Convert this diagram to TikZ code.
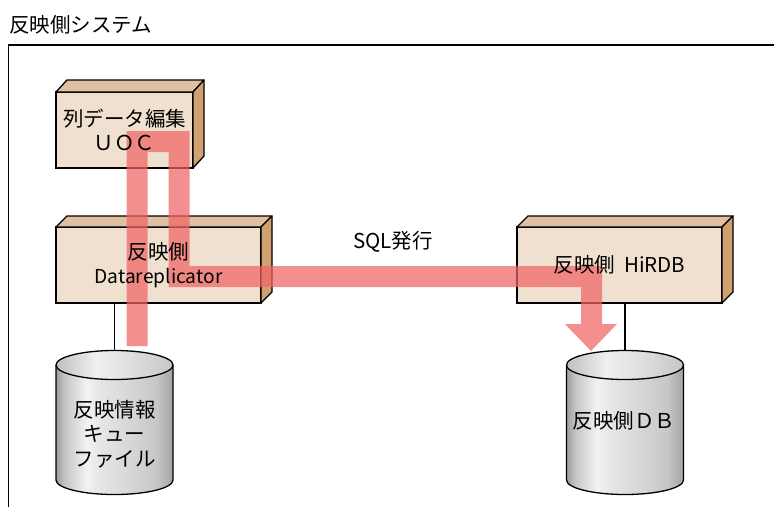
\documentclass[tikz,border=0pt]{standalone}
\usepackage{fontspec}
\setmainfont{Noto Sans CJK JP}
\definecolor{boxfront}{RGB}{240,224,208}
\definecolor{boxtop}{RGB}{224,192,160}
\definecolor{boxside}{RGB}{208,160,112}
\definecolor{flowc}{RGB}{240,100,100}
\pgfdeclarehorizontalshading{cylbody}{100bp}{color(0bp)=(black!38); color(25bp)=(black!38); color(29bp)=(black!22); color(38bp)=(black!5); color(44bp)=(black!10); color(55bp)=(black!15); color(68bp)=(black!22); color(75bp)=(black!36); color(100bp)=(black!36)}
\pgfdeclarehorizontalshading{cyltop}{100bp}{color(0bp)=(black!25); color(25bp)=(black!25); color(42bp)=(black!6); color(55bp)=(black!12); color(75bp)=(black!22); color(100bp)=(black!22)}
\tikzset{
  boxface/.style={draw, line width=1.3pt, fill=boxfront, inner sep=0pt, outer sep=0pt, minimum height=76pt},
  topface/.style={draw, line width=1.3pt, fill=boxtop, line join=round},
  sideface/.style={draw, line width=1.3pt, fill=boxside, line join=round},
  conn/.style={draw, line width=1.1pt},
  frameline/.style={draw, line width=1.6pt},
  lbl/.style={font=\fontsize{20.5}{24.5}\selectfont, align=center, inner sep=0pt},
  cylline/.style={draw, line width=1.3pt},
}
\begin{document}
\begin{tikzpicture}[x=1pt,y=-1pt]
\useasboundingbox (0,0) rectangle (774,507);
% frame
\node[lbl, anchor=west] (title) at (9,25) {反映側システム};
\coordinate (fbl) at (8.5,507);
\coordinate (ftl) at (8.5,45);
\coordinate (ftr) at (774,45);
\draw[frameline] (fbl) -- (ftl) -- (ftr);
% boxes
\node[boxface, minimum width=137pt] (uoc) at (124.5,130) {};
\node[boxface, minimum width=205pt] (repl) at (158.5,265) {};
\node[boxface, minimum width=205pt] (hirdb) at (619.5,265) {};
\foreach \b/\d in {uoc/12, repl/11, hirdb/11}{
  \draw[topface] (\b.north west) -- ++(11,-\d) -- ([shift={(11,-\d)}]\b.north east) -- (\b.north east) -- cycle;
  \draw[sideface] (\b.north east) -- ++(11,-\d) -- ([shift={(11,-\d)}]\b.south east) -- (\b.south east) -- cycle;
}
% cylinders
\coordinate (qtop) at (114.5,351);
\coordinate (dtop) at (625,351);
\foreach \c/\cx in {q/114.5, d/625}{
  \shade[shading=cylbody] (\cx-58.5,365) -- (\cx-58.5,480) arc[start angle=180, end angle=0, x radius=58.5, y radius=14.5] -- (\cx+58.5,365) arc[start angle=0, end angle=-180, x radius=58.5, y radius=14.5] -- cycle;
  \draw[cylline] (\cx-58.5,365) -- (\cx-58.5,480) arc[start angle=180, end angle=0, x radius=58.5, y radius=14.5] -- (\cx+58.5,365);
  \shade[shading=cyltop] (\cx,365) ellipse[x radius=58.5, y radius=14.5];
  \draw[cylline] (\cx,365) ellipse[x radius=58.5, y radius=14.5];
}
% connectors
\draw[conn] (qtop |- repl.south) -- (qtop);
\draw[conn] (dtop |- hirdb.south) -- (dtop);
% flow
\coordinate (p1) at (137,346);
\coordinate (p2) at (137,141.5);
\coordinate (p3) at (179,141.5);
\coordinate (p4) at (179,276.5);
\coordinate (p5) at (591.5,276.5);
\coordinate (p6) at (591.5,324);
\coordinate (ah1) at (565,324);
\coordinate (ah2) at (617,324);
\coordinate (ah3) at (591,351);
\begin{scope}[transparency group, opacity=0.72]
  \draw[flowc, line width=21pt, line join=miter] (p1) -- (p2) -- (p3) -- (p4) -- (p5) -- (p6);
  \fill[flowc] (ah1) -- (ah2) -- (ah3) -- cycle;
\end{scope}
% texts
\node[lbl] (uoctxt) at (uoc.center) {列データ編集\\ＵＯＣ};
\node[lbl] (repltxt) at (repl.center) {反映側\\{\fontsize{19.2}{24.5}\selectfont Datareplicator}};
\node[lbl] (hirdbtxt) at (hirdb.center) {反映側\hspace{9pt}HiRDB};
\node[lbl] (sql) at (393,242) {SQL発行};
\node[lbl] (qtxt) at (114.5,434) {反映情報\\キュー\\ファイル};
\node[lbl] (dtxt) at (624,421) {反映側ＤＢ};
\end{tikzpicture}
\end{document}
